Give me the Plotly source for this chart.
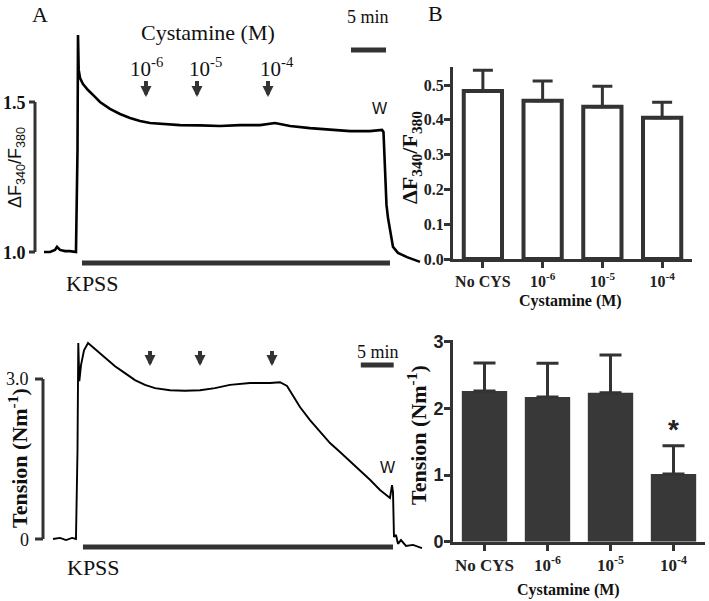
import plotly.graph_objects as go

# ---------------- data ----------------
# Panel A top: Fura-2 ratio trace (time in min, ratio)
fura_t = [-4.86, -4.0, -3.29, -3.0, -2.57, -1.86, -1.14, -0.29, -0.07, 0.0, 0.1, 0.29, 0.71,
          1.43, 2.43, 3.14, 4.57, 6.0, 7.43, 8.86, 10.29, 12.43, 14.57, 17.43, 20.29, 23.14,
          26.0, 28.14, 30.29, 33.14, 36.0, 38.86, 41.71, 43.43, 43.64, 43.86, 44.07, 44.29,
          44.57, 45.0, 45.71, 47.0, 48.86]
fura_v = [1.000, 1.000, 1.007, 1.017, 1.007, 1.003, 1.003, 1.000, 1.34, 1.723, 1.607, 1.58, 1.56,
          1.54, 1.517, 1.50, 1.477, 1.46, 1.447, 1.437, 1.43, 1.427, 1.423, 1.422, 1.42, 1.423,
          1.423, 1.43, 1.42, 1.413, 1.407, 1.403, 1.403, 1.407, 1.40, 1.273, 1.157, 1.113,
          1.073, 1.017, 0.997, 0.983, 0.967]

# Panel A bottom: tension trace (time in min, N/m)
tension_t = [-3.57, -2.57, -1.71, -0.86, -0.29, -0.07, 0.04, 0.19, 0.43, 0.86, 1.43, 2.43, 3.86,
             5.29, 6.71, 8.14, 9.57, 11.0, 13.14, 15.29, 17.43, 19.57, 21.71, 24.57, 27.43,
             28.86, 29.86, 30.71, 31.71, 33.14, 34.57, 36.0, 37.43, 38.86, 40.29, 41.71, 43.14,
             44.57, 44.86, 45.0, 45.14, 45.43, 45.71, 46.14, 46.86, 47.86, 49.14]
tension_v = [0.0, 0.02, -0.02, 0.02, 0.0, 1.67, 3.675, 2.96, 3.26, 3.54, 3.675, 3.56, 3.39,
             3.24, 3.11, 2.98, 2.89, 2.83, 2.79, 2.78, 2.79, 2.83, 2.89, 2.925, 2.925,
             2.94, 2.87, 2.70, 2.475, 2.23, 2.01, 1.80, 1.63, 1.46, 1.29, 1.11, 0.92,
             0.77, 1.01, 0.88, 0.04, 0.075, -0.09, -0.02, -0.13, -0.11, -0.17]

# cystamine additions (min) and KPSS application periods (min)
fura_add_t = [9.71, 17.0, 27.14]
tension_add_t = [10.29, 17.43, 27.71]
add_labels = ["10<sup>-6</sup>", "10<sup>-5</sup>", "10<sup>-4</sup>"]
fura_kpss = [0.57, 44.57]
tension_kpss = [0.71, 45.0]

# Panel B
categories = ["No CYS", "10<sup>-6</sup>", "10<sup>-5</sup>", "10<sup>-4</sup>"]
ratio_mean = [0.483, 0.455, 0.438, 0.406]
ratio_sem = [0.060, 0.057, 0.059, 0.045]
tension_mean = [2.26, 2.17, 2.235, 1.015]
tension_sem = [0.42, 0.505, 0.565, 0.425]
signif = ["", "", "", "*"]

# ---------------- layout helpers ----------------
W, H = 709, 601
DARK = "#333333"
SERIF = "Liberation Serif"
SANS = "Liberation Sans"


def X(px):
    return px / W


def Y(py):
    return 1 - py / H


PXMIN = 7.0  # pixels per minute in the traces
T0 = 78.0    # pixel of t = 0

fig = go.Figure()

fig.add_trace(go.Scatter(x=fura_t, y=fura_v, mode="lines", xaxis="x", yaxis="y",
                         line=dict(color="black", width=2.6), showlegend=False, hoverinfo="skip"))
fig.add_trace(go.Scatter(x=tension_t, y=tension_v, mode="lines", xaxis="x3", yaxis="y3",
                         line=dict(color="black", width=1.9), showlegend=False, hoverinfo="skip"))

fig.add_trace(go.Bar(x=categories, y=ratio_mean, xaxis="x2", yaxis="y2", width=0.64,
                     marker=dict(color="white", line=dict(color=DARK, width=4)),
                     error_y=dict(type="data", array=ratio_sem, arrayminus=[0] * 4, symmetric=False,
                                  color=DARK, thickness=3, width=10),
                     showlegend=False, hoverinfo="skip"))
fig.add_trace(go.Bar(x=categories, y=tension_mean, xaxis="x4", yaxis="y4", width=0.72,
                     marker=dict(color="#383838", line=dict(width=0)),
                     error_y=dict(type="data", array=tension_sem, arrayminus=[0] * 4, symmetric=False,
                                  color=DARK, thickness=3, width=11),
                     showlegend=False, hoverinfo="skip"))

trace_xrange = [(0 - T0) / PXMIN, (425 - T0) / PXMIN]
bar_axis = dict(showline=True, linewidth=3, linecolor=DARK, ticks="outside", ticklen=6,
                tickwidth=3, tickcolor=DARK, showgrid=False, zeroline=False, fixedrange=True,
                automargin=False)

fig.update_layout(
    template="none",
    width=W, height=H, margin=dict(l=0, r=0, t=0, b=0, pad=0, autoexpand=False),
    paper_bgcolor="white", plot_bgcolor="rgba(0,0,0,0)",
    xaxis=dict(domain=[0, X(425)], range=trace_xrange, visible=False, anchor="y", fixedrange=True),
    yaxis=dict(domain=[Y(300), 1], range=[1 + (252 - 300) / 300, 1 + 252 / 300], visible=False,
               anchor="x", fixedrange=True),
    xaxis3=dict(domain=[0, X(425)], range=trace_xrange, visible=False, anchor="y3", fixedrange=True),
    yaxis3=dict(domain=[0, Y(300)], range=[(539 - 601) / 53.33, (539 - 300) / 53.33], visible=False,
                anchor="x3", fixedrange=True),
    xaxis2=dict(domain=[X(453), X(692)], range=[-0.5, 3.5], type="category", anchor="y2",
                tickfont=dict(family=SERIF, size=16, color="#222", weight="bold"), **bar_axis),
    yaxis2=dict(domain=[Y(259), Y(67)], range=[0, 0.552], anchor="x2",
                tickvals=[0, 0.1, 0.2, 0.3, 0.4, 0.5], tickformat=".1f", ticklabelstandoff=-3,
                tickfont=dict(family=SERIF, size=16, color="#222", weight="bold"), **bar_axis),
    xaxis4=dict(domain=[X(453), X(705)], range=[-0.5, 3.5], type="category", anchor="y4",
                tickfont=dict(family=SERIF, size=17, color="#222", weight="bold"), **bar_axis),
    yaxis4=dict(domain=[Y(541.7), Y(340)], range=[0, 3.025], anchor="x4",
                tickvals=[0, 1, 2, 3], ticklabelstandoff=-3,
                tickfont=dict(family=SANS, size=18, color="#222", weight="bold"), **bar_axis),
)

shapes = []
# KPSS bars
shapes.append(dict(type="line", xref="x", yref="y", x0=fura_kpss[0], x1=fura_kpss[1],
                   y0=1 + (252 - 263) / 300, y1=1 + (252 - 263) / 300, line=dict(color=DARK, width=5)))
shapes.append(dict(type="line", xref="x3", yref="y3", x0=tension_kpss[0], x1=tension_kpss[1],
                   y0=(539 - 547) / 53.33, y1=(539 - 547) / 53.33, line=dict(color=DARK, width=5)))
# 5 min scale bars
shapes.append(dict(type="line", xref="x", yref="y", x0=39.0, x1=44.0, y0=1 + (252 - 50) / 300,
                   y1=1 + (252 - 50) / 300, line=dict(color=DARK, width=5)))
shapes.append(dict(type="line", xref="x3", yref="y3", x0=40.4, x1=45.1, y0=(539 - 365) / 53.33,
                   y1=(539 - 365) / 53.33, line=dict(color=DARK, width=5)))
# vertical calibration bars
tx = (35 - T0) / PXMIN
shapes.append(dict(type="line", xref="x", yref="y", x0=tx, x1=tx, y0=1.0, y1=1.5, line=dict(color=DARK, width=3)))
for v in (1.0, 1.5):
    shapes.append(dict(type="line", xref="x", yref="y", x0=(29 - T0) / PXMIN, x1=tx, y0=v, y1=v,
                       line=dict(color=DARK, width=3)))
bx = (43 - T0) / PXMIN
shapes.append(dict(type="line", xref="x3", yref="y3", x0=bx, x1=bx, y0=0, y1=3.0, line=dict(color=DARK, width=3)))
for v in (0.0, 3.0):
    shapes.append(dict(type="line", xref="x3", yref="y3", x0=(35 - T0) / PXMIN, x1=bx, y0=v, y1=v,
                       line=dict(color=DARK, width=3)))
# arrow shafts marking cystamine additions
for t in fura_add_t:
    shapes.append(dict(type="line", xref="x", yref="y", x0=t, x1=t, y0=1 + (252 - 81) / 300,
                       y1=1 + (252 - 91) / 300, line=dict(color=DARK, width=4)))
for t in tension_add_t:
    shapes.append(dict(type="line", xref="x3", yref="y3", x0=t, x1=t, y0=(539 - 351) / 53.33,
                       y1=(539 - 360) / 53.33, line=dict(color=DARK, width=4)))
fig.update_layout(shapes=shapes)

ann = []


def text(t, px, py, size, family=SERIF, bold=False, angle=0, xanchor="center", color="#111"):
    ann.append(dict(text=t, x=X(px), y=Y(py), xref="paper", yref="paper", showarrow=False,
                    xanchor=xanchor, yanchor="middle", textangle=angle,
                    font=dict(family=family, size=size, color=color, weight="bold" if bold else "normal")))


# panel letters & labels
text("A", 40, 15, 22)
text("B", 435, 14, 22)
text("Cystamine (M)", 208, 33, 22)
text("5 min", 368, 17, 18)
text("5 min", 378, 352, 18)
text("KPSS", 92, 283, 22)
text("KPSS", 93, 567, 22)
text("W", 380, 108, 16, family=SANS)
text("W", 388, 467, 16, family=SANS)
# concentration labels above arrows
for t, lab, dx in zip(fura_add_t, add_labels, [1, 8, 9]):
    text(lab, T0 + t * PXMIN + dx, 67, 21)
# calibration labels
text("1.5", 28, 103, 18, bold=True, xanchor="right")
text("1.0", 28, 253, 18, bold=True, xanchor="right")
text("3.0", 31, 379, 18, xanchor="right")
text("0", 31, 540, 18, xanchor="right")
# axis titles
text("ΔF<sub>340</sub>/F<sub>380</sub>", 17, 168, 18, family=SANS, angle=-90)
text("Tension (Nm<sup>-1</sup>)", 18, 458, 22, bold=True, angle=-90)
text("ΔF<sub>340</sub>/F<sub>380</sub>", 411, 158, 22, bold=True, angle=-90)
text("Cystamine (M)", 570, 301, 16, bold=True)
text("Tension (Nm<sup>-1</sup>)", 417, 435, 22, bold=True, angle=-90)
text("Cystamine (M)", 568, 590, 16, bold=True)

# arrow heads
for t in fura_add_t:
    ann.append(dict(x=t, y=1 + (252 - 97) / 300, xref="x", yref="y", ax=0, ay=-8, text="",
                    showarrow=True, arrowhead=2, arrowsize=0.55, arrowwidth=4, arrowcolor=DARK))
for t in tension_add_t:
    ann.append(dict(x=t, y=(539 - 366) / 53.33, xref="x3", yref="y3", ax=0, ay=-8, text="",
                    showarrow=True, arrowhead=2, arrowsize=0.55, arrowwidth=4, arrowcolor=DARK))

# significance stars
for c, m, e, s in zip(categories, tension_mean, tension_sem, signif):
    if s:
        ann.append(dict(x=c, y=m + e + 0.24, xref="x4", yref="y4", text=s, showarrow=False,
                        yanchor="middle", font=dict(family=SANS, size=28, color="#222", weight="bold")))

fig.update_layout(annotations=ann)
fig.write_html("out.html", config={"displayModeBar": False, "staticPlot": True},
               post_script="document.body.style.margin='0px';document.body.style.overflow='hidden';")
